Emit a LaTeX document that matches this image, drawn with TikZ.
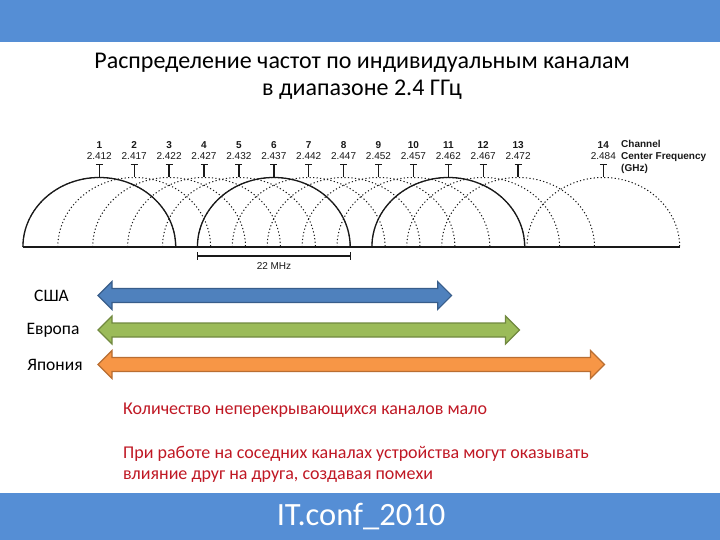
\documentclass[tikz,border=0pt]{standalone}
\usepackage{fontspec}
\setmainfont{Carlito}
\newfontfamily\chartfont{Liberation Sans}
\usetikzlibrary{positioning,calc}
\definecolor{slideblue}{RGB}{85,142,213}
\definecolor{usafill}{RGB}{79,129,189}
\definecolor{usaline}{RGB}{56,93,138}
\definecolor{eufill}{RGB}{155,187,89}
\definecolor{euline}{RGB}{113,137,64}
\definecolor{jpfill}{RGB}{247,150,70}
\definecolor{jpline}{RGB}{185,110,50}
\definecolor{notered}{RGB}{192,24,36}
\definecolor{chartink}{RGB}{25,25,25}
% one double arrow for a region: #1 name, #2 y, #3 right tip, #4 fill, #5 border
\newcommand{\regionarrow}[5]{%
  \coordinate (#1-w) at (98,#2);
  \coordinate (#1-e) at (#3,#2);
  \draw[fill=#4, draw=#5, line width=1.1pt, line join=miter]
    (#1-w) -- ++(14,-14) -- ++(0,7) -- ($(#1-e)+(-14,-7)$) -- ++(0,-7)
    -- (#1-e) -- ++(-14,14) -- ++(0,-7) -- ($(#1-w)+(14,7)$) -- ++(0,7) -- cycle;}

\begin{document}
\begin{tikzpicture}[x=1pt,y=-1pt,
    chnum/.style={font=\fontsize{10}{12}\selectfont\chartfont\bfseries, text=chartink, inner sep=0pt},
    chfreq/.style={font=\fontsize{10}{12}\selectfont\chartfont, text=chartink, inner sep=0pt},
    lobe/.style={draw=chartink, line width=1pt, dash pattern=on 1.2pt off 2.3pt},
    mainlobe/.style={draw=chartink, line width=1.3pt},
    region/.style={font=\fontsize{17.5}{20}\selectfont, text=black, inner sep=0pt},
    note/.style={font=\fontsize{18}{21}\selectfont, text=notered, align=left, anchor=west, inner sep=0pt}]
    \fill[white] (0,0) rectangle (720,540);
    \fill[slideblue] (0,0) rectangle (720,42);
    \fill[slideblue] (0,493) rectangle (720,540);

    \node[font=\fontsize{24}{27}\selectfont, align=center, text=black] (title) at (362,76.5)
         {Распределение частот по индивидуальным каналам\\в диапазоне 2.4 ГГц};

    % channel lobes
    \foreach \n/\cx/\f in {1/99.3/2.412, 2/134.2/2.417, 3/169.1/2.422, 4/204.0/2.427,
                           5/238.9/2.432, 6/273.8/2.437, 7/308.7/2.442, 8/343.6/2.447,
                           9/378.5/2.452, 10/413.4/2.457, 11/448.3/2.462, 12/483.2/2.467,
                           13/518.1/2.472, 14/603.3/2.484} {
      \draw[lobe] (\cx-76.4,247) arc[start angle=180, end angle=0, x radius=76.4pt, y radius=69.5pt];
      \node[chnum] (num\n) at (\cx,145) {\n};
      \node[chfreq] (freq\n) at (\cx,156.5) {\f};
      \coordinate (top\n) at (\cx,177.5);
      \draw[line width=1.4pt, draw=chartink] (\cx,164.5) -- (top\n);
      \draw[line width=1.3pt, draw=chartink] (\cx-3.5,164.5) -- (\cx+3.5,164.5);
    }
    \foreach \cx in {99.3, 273.8, 448.3}
      \draw[mainlobe] (\cx-76.4,247) arc[start angle=180, end angle=0, x radius=76.4pt, y radius=69.5pt];

    \coordinate (base-w) at (23,247);
    \coordinate (base-e) at (680,247);
    \draw[line width=1.4pt, draw=chartink] (base-w) -- (base-e);

    \node[chnum, align=left, anchor=west, font=\fontsize{10}{12}\selectfont\chartfont\bfseries]
         (legend) at (621,157) {Channel\\Center Frequency\\(GHz)};

    % 22 MHz span of one channel
    \coordinate (span-w) at (197.4,256);
    \coordinate (span-e) at (350.2,256);
    \draw[line width=1.3pt, draw=chartink] (span-w) -- (span-e);
    \draw[line width=1.3pt, draw=chartink] ($(span-w)+(0,-4)$) -- ($(span-w)+(0,4)$);
    \draw[line width=1.3pt, draw=chartink] ($(span-e)+(0,-4)$) -- ($(span-e)+(0,4)$);
    \node[chfreq] (span) at (274,266.5) {22 MHz};

    % allowed channels per region
    \regionarrow{usa}{295.5}{451.7}{usafill}{usaline}
    \regionarrow{eu}{330}{519.5}{eufill}{euline}
    \regionarrow{jp}{364.5}{604.5}{jpfill}{jpline}
    \node[region] (usa) at (51.5,295.5) {США};
    \node[region] (eu) at (53,330) {Европа};
    \node[region] (jp) at (55,364.5) {Япония};

    \node[note] (few) at (123,410) {Количество неперекрывающихся каналов мало};
    \node[note] (noise) at (123,464.5)
         {При работе на соседних каналах устройства могут оказывать\\влияние друг на друга, создавая помехи};

    \node[font=\fontsize{32.5}{36}\selectfont, text=white] (footer) at (361,517) {IT.conf\_2010};
  \end{tikzpicture}
\end{document}
